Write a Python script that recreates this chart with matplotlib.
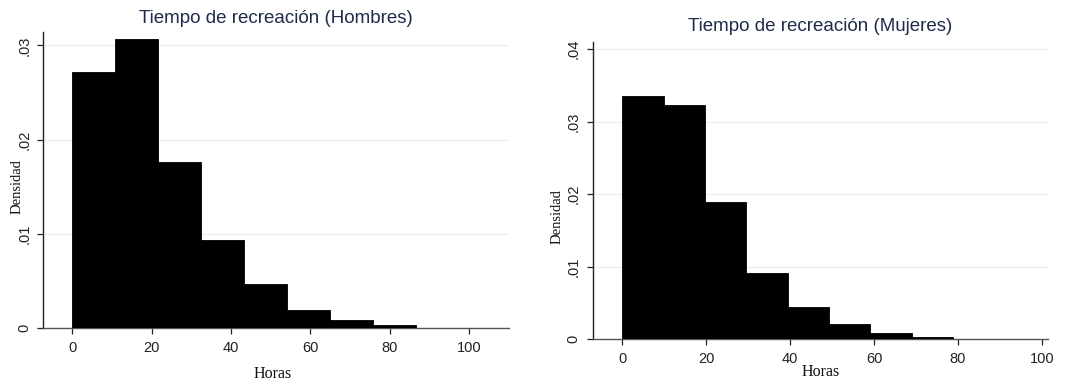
import matplotlib
matplotlib.use("Agg")
import matplotlib.pyplot as plt
import numpy as np

# Data
men_edges = [0, 10.83, 21.67, 32.5, 43.33, 54.17, 65.0, 75.83, 86.67]
men_density = [0.0272, 0.0307, 0.0176, 0.0093, 0.0047, 0.0019, 0.00085, 0.00028]
women_edges = [0, 9.86, 19.72, 29.58, 39.44, 49.3, 59.16, 69.02, 78.88]
women_density = [0.0335, 0.0323, 0.0189, 0.0092, 0.0045, 0.0021, 0.00083, 0.00037]

xticks = [0, 20, 40, 60, 80, 100]
men_yticks = [0, 0.01, 0.02, 0.03]
women_yticks = [0, 0.01, 0.02, 0.03, 0.04]
ytick_labels = {0: "0", 0.01: ".01", 0.02: ".02", 0.03: ".03", 0.04: ".04"}

titles = ["Tiempo de recreación (Hombres)", "Tiempo de recreación (Mujeres)"]
xlabel = "Horas"
ylabel = "Densidad"

W, H = 1066, 383
fig = plt.figure(figsize=(W / 100, H / 100), dpi=100)

def px_axes(l, r, b, t):
    return fig.add_axes([l / W, 1 - b / H, (r - l) / W, (b - t) / H])

title_color = "#1f2b4d"
sans = "Liberation Sans"
serif = "Liberation Serif"

def draw(ax, edges, dens, yticks, xlim, ylim, title, title_pad, xl_coords, yl_coords, ytick_pad):
    widths = np.diff(edges)
    ax.bar(edges[:-1], dens, width=widths, align="edge", color="black",
           edgecolor="black", linewidth=0.6, zorder=3)
    ax.set_xlim(*xlim)
    ax.set_ylim(*ylim)
    ax.set_xticks(xticks)
    ax.set_xticklabels([str(v) for v in xticks], fontfamily=sans, fontsize=10.5)
    ax.set_yticks(yticks)
    ax.set_yticklabels([ytick_labels[v] for v in yticks], fontfamily=sans,
                       fontsize=10.5, rotation=90, va="center")
    for y in yticks[1:]:
        ax.axhline(y, color="#e6eff1", linewidth=0.9, zorder=1)
    for s in ["top", "right"]:
        ax.spines[s].set_visible(False)
    ax.spines["left"].set_color("#222222")
    ax.spines["bottom"].set_color("#555555")
    ax.spines["left"].set_linewidth(1.0)
    ax.spines["bottom"].set_linewidth(1.0)
    ax.tick_params(axis="both", direction="out", length=4, width=0.9, colors="#222222")
    ax.tick_params(axis="y", pad=ytick_pad)
    ax.tick_params(axis="x", pad=5)
    ax.set_title(title, fontfamily=sans, fontsize=13.5, color=title_color, pad=title_pad)
    ax.set_xlabel(xlabel, fontfamily=serif, fontsize=11.5, color="#111111", va="center")
    ax.set_ylabel(ylabel, fontfamily=serif, fontsize=10.5, color="#111111", va="center")
    ax.xaxis.set_label_coords(*xl_coords)
    ax.yaxis.set_label_coords(*yl_coords)
    ax.set_facecolor("white")

ax1 = px_axes(42.7, 509, 328, 31.7)
draw(ax1, men_edges, men_density, men_yticks, (-7.4, 110), (0, 0.03145),
     titles[0], 6,
     ((273 - 42.7) / (509 - 42.7), (328 - 374) / (328 - 31.7)),
     ((17.5 - 42.7) / (509 - 42.7), (328 - 187) / (328 - 31.7)), 4)

ax2 = px_axes(593.3, 1047.7, 339.3, 41.7)
draw(ax2, women_edges, women_density, women_yticks, (-6.9, 101.4), (0, 0.041),
     titles[1], 8,
     ((821 - 593.3) / (1047.7 - 593.3), (339.3 - 372) / (339.3 - 41.7)),
     ((557 - 593.3) / (1047.7 - 593.3), (339.3 - 217) / (339.3 - 41.7)), 5)

fig.savefig("out.png", dpi=100, facecolor="white")
